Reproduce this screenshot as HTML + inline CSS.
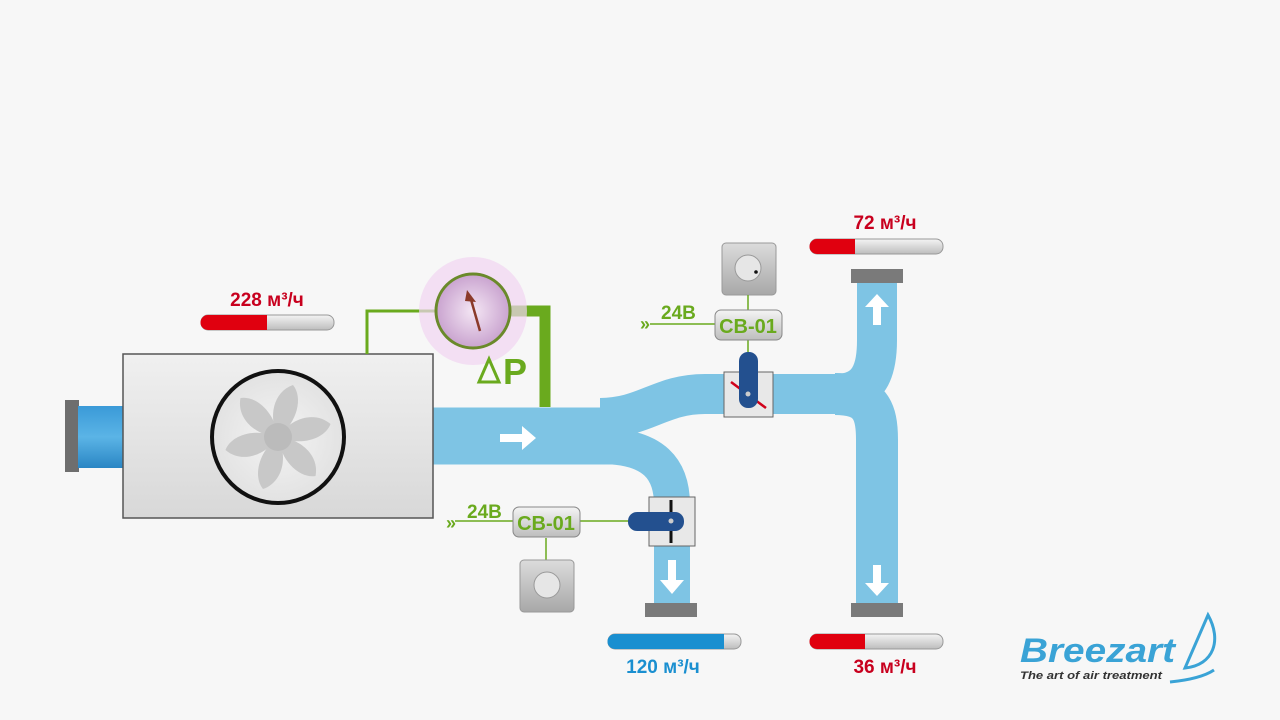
<!DOCTYPE html>
<html><head><meta charset="utf-8"><style>
body{margin:0;width:1280px;height:720px;background:#f7f7f7;overflow:hidden;font-family:"Liberation Sans","DejaVu Sans",sans-serif}
svg{position:absolute;left:0;top:0}
</style></head><body>
<svg width="1280" height="720" viewBox="0 0 1280 720">
<defs>
<linearGradient id="box" x1="0" y1="0" x2="0" y2="1"><stop offset="0" stop-color="#f0f0f0"/><stop offset="1" stop-color="#d8d8d8"/></linearGradient>
<linearGradient id="cyl" x1="0" y1="0" x2="0" y2="1"><stop offset="0" stop-color="#3a9ad8"/><stop offset=".5" stop-color="#5bb4e6"/><stop offset="1" stop-color="#2a86c4"/></linearGradient>
<linearGradient id="bar" x1="0" y1="0" x2="0" y2="1"><stop offset="0" stop-color="#f4f4f4"/><stop offset="1" stop-color="#bdbdbd"/></linearGradient>
<radialGradient id="gauge" cx=".5" cy=".5" r=".5"><stop offset="0" stop-color="#f4e6f4"/><stop offset="1" stop-color="#c9a3cf"/></radialGradient>
<radialGradient id="fan" cx=".5" cy=".5" r=".5"><stop offset="0" stop-color="#f4f4f4"/><stop offset="1" stop-color="#e2e2e2"/></radialGradient>
<linearGradient id="knob" x1="0" y1="0" x2="0" y2="1"><stop offset="0" stop-color="#dcdcdc"/><stop offset="1" stop-color="#a8a8a8"/></linearGradient>
</defs>
<!-- ducts -->
<g fill="none" stroke="#7ec4e4" stroke-linecap="butt">
<path d="M430 436 H615" stroke-width="57"/>
<path d="M600 446 C655 446 672 470 672 505 V605" stroke-width="36"/>
<path d="M600 418 C645 418 660 394 705 394 H835 C870 394 877 370 877 340 V283" stroke-width="40"/>
<path d="M835 394 C870 394 877 410 877 440 V605" stroke-width="42"/>
</g>
<!-- arrows -->
<g fill="#fff">
<path d="M500 434 h22 v-8 l14 12 l-14 12 v-8 h-22z"/>
<path d="M668 560 h8 v20 h8 l-12 14 l-12 -14 h8z"/>
<path d="M873 565 h8 v18 h8 l-12 13 l-12 -13 h8z"/>
<path d="M873 325 h8 v-18 h8 l-12 -13 l-12 13 h8z"/>
</g>
<!-- flanges -->
<g fill="#7a7a7a"><rect x="851" y="269" width="52" height="14"/><rect x="851" y="603" width="52" height="14"/><rect x="645" y="603" width="52" height="14"/></g>
<!-- inlet -->
<rect x="65" y="400" width="14" height="72" fill="#6e6e6e"/>
<rect x="78" y="406" width="46" height="62" fill="url(#cyl)"/>
<!-- unit -->
<rect x="123" y="354" width="310" height="164" fill="url(#box)" stroke="#555" stroke-width="1.5"/>
<circle cx="278" cy="437" r="66" fill="url(#fan)" stroke="#111" stroke-width="4"/>
<g fill="#c8c8c8" transform="translate(278 437)">
<g id="bl"><path d="M0 0 C-10 -20 -5 -45 15 -52 C25 -40 20 -15 0 0Z"/></g>
<use href="#bl" transform="rotate(60)"/><use href="#bl" transform="rotate(120)"/><use href="#bl" transform="rotate(180)"/><use href="#bl" transform="rotate(240)"/><use href="#bl" transform="rotate(300)"/>
<circle r="14" fill="#bbb"/>
</g>
<!-- pressure lines -->
<path d="M367 354 V311 H440" fill="none" stroke="#6aaa1e" stroke-width="3"/>
<path d="M505 311 H545 V407" fill="none" stroke="#6aaa1e" stroke-width="11"/>
<circle cx="473" cy="311" r="54" fill="#f1d4f1" opacity=".7"/>
<circle cx="473" cy="311" r="37" fill="url(#gauge)" stroke="#6a8a2a" stroke-width="3"/>
<path d="M480 331 L470 296" stroke="#8b3a2a" stroke-width="2.5"/><path d="M467 290 L476 302 L465 301Z" fill="#8b3a2a"/>
<text x="503" y="384" font-size="36" font-weight="bold" fill="#6aaa1e">P</text>
<path d="M479 382 L489 359 L499 382Z" fill="none" stroke="#6aaa1e" stroke-width="3"/>
<!-- controller top -->
<rect x="722" y="243" width="54" height="52" rx="4" fill="url(#knob)" stroke="#999"/>
<circle cx="748" cy="268" r="13" fill="#e6e6e6" stroke="#999"/><circle cx="756" cy="272" r="1.8" fill="#111"/>
<path d="M748 295 V312 M748 339 V352 M650 324 H716" stroke="#6aaa1e" stroke-width="1.5"/>
<rect x="715" y="310" width="67" height="30" rx="6" fill="url(#bar)" stroke="#888"/>
<text x="748" y="333" font-size="20" font-weight="bold" fill="#6aaa1e" text-anchor="middle">CB-01</text>
<text x="661" y="319" font-size="19" font-weight="bold" fill="#6aaa1e">24B</text>
<text x="640" y="330" font-size="18" font-weight="bold" fill="#6aaa1e">»</text>
<rect x="724" y="372" width="49" height="45" fill="#e8e8e8" stroke="#666"/>
<path d="M731 382 L766 408" stroke="#d0021b" stroke-width="2.5"/>
<rect x="739" y="352" width="19" height="56" rx="9" fill="#23508f"/>
<circle cx="748" cy="394" r="2.5" fill="#ccc"/>
<!-- controller bottom -->
<path d="M455 521 H513 M546 538 V560 M580 521 H630" stroke="#6aaa1e" stroke-width="1.5"/>
<rect x="513" y="507" width="67" height="30" rx="6" fill="url(#bar)" stroke="#888"/>
<text x="546" y="530" font-size="20" font-weight="bold" fill="#6aaa1e" text-anchor="middle">CB-01</text>
<text x="467" y="518" font-size="19" font-weight="bold" fill="#6aaa1e">24B</text>
<text x="446" y="529" font-size="18" font-weight="bold" fill="#6aaa1e">»</text>
<rect x="520" y="560" width="54" height="52" rx="4" fill="url(#knob)" stroke="#999"/>
<circle cx="547" cy="585" r="13" fill="#e6e6e6" stroke="#999"/>
<rect x="649" y="497" width="46" height="49" fill="#e8e8e8" stroke="#666"/>
<path d="M671 500 V543" stroke="#111" stroke-width="3"/>
<rect x="628" y="512" width="56" height="19" rx="9" fill="#23508f"/>
<circle cx="671" cy="521" r="2.5" fill="#ccc"/>
<!-- bars -->
<g>
<rect x="201" y="315" width="133" height="15" rx="7" fill="url(#bar)" stroke="#999"/><path d="M208 315 H267 V330 H208 A7 7 0 0 1 208 315Z" fill="#e0000f"/>
<text x="267" y="306" font-size="19" font-weight="bold" fill="#c8001e" text-anchor="middle">228 м³/ч</text>
<rect x="810" y="239" width="133" height="15" rx="7" fill="url(#bar)" stroke="#999"/><path d="M817 239 H855 V254 H817 A7 7 0 0 1 817 239Z" fill="#e0000f"/>
<text x="885" y="229" font-size="19" font-weight="bold" fill="#c8001e" text-anchor="middle">72 м³/ч</text>
<rect x="608" y="634" width="133" height="15" rx="7" fill="url(#bar)" stroke="#999"/><path d="M615 634 H724 V649 H615 A7 7 0 0 1 615 634Z" fill="#1a8fd0"/>
<text x="663" y="673" font-size="19" font-weight="bold" fill="#1a8fd0" text-anchor="middle">120 м³/ч</text>
<rect x="810" y="634" width="133" height="15" rx="7" fill="url(#bar)" stroke="#999"/><path d="M817 634 H865 V649 H817 A7 7 0 0 1 817 634Z" fill="#e0000f"/>
<text x="885" y="673" font-size="19" font-weight="bold" fill="#c8001e" text-anchor="middle">36 м³/ч</text>
</g>
<!-- logo -->
<text x="1020" y="662" font-size="34" font-weight="bold" font-style="italic" fill="#3aa3d6" textLength="155" lengthAdjust="spacingAndGlyphs">Breezart</text>
<text x="1020" y="679" font-size="11" font-weight="bold" font-style="italic" fill="#333" textLength="142" lengthAdjust="spacingAndGlyphs">The art of air treatment</text>
<path d="M1208 615 C1222 640 1214 665 1185 668 Z" fill="none" stroke="#3aa3d6" stroke-width="3"/>
<path d="M1170 682 C1190 680 1205 676 1214 670" fill="none" stroke="#3aa3d6" stroke-width="3"/>
</svg>
</body></html>
